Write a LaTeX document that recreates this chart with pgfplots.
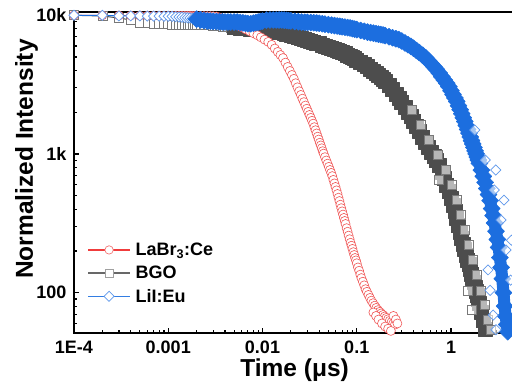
\documentclass[border=0pt]{standalone}
\usepackage{fontspec}
\setmainfont{Liberation Sans}
\usepackage{pgfplots}
\pgfplotsset{compat=1.18}
\definecolor{labline}{RGB}{240,60,60}
\definecolor{labmark}{RGB}{240,85,85}
\definecolor{bgoline}{RGB}{77,77,77}
\definecolor{bgomark}{RGB}{120,120,120}
\definecolor{liiline}{RGB}{28,110,223}
\definecolor{liimark}{RGB}{95,152,236}
\begin{document}
\begin{tikzpicture}
\begin{axis}[
  name=ax,
  xmode=log, ymode=log,
  scale only axis, width=442.9pt, height=321pt,
  xmin=1e-4, xmax=5, ymin=51.2, ymax=10563,
  axis on top,
  axis line style={line width=1.5pt},
  tick pos=left,
  tick style={line width=1.2pt, black},
  major tick length=5pt, minor tick length=3pt,
  xtick={1e-4,1e-3,1e-2,1e-1,1}, xticklabels={1E-4,0.001,0.01,0.1,1},
  minor xtick={2e-4,3e-4,4e-4,5e-4,6e-4,7e-4,8e-4,9e-4,2e-3,3e-3,4e-3,5e-3,6e-3,7e-3,8e-3,9e-3,0.02,0.03,0.04,0.05,0.06,0.07,0.08,0.09,0.2,0.3,0.4,0.5,0.6,0.7,0.8,0.9,2,3,4},
  ytick={100,1000,10000}, yticklabels={100,1k,10k},
  minor ytick={60,70,80,90,200,300,400,500,600,700,800,900,2000,3000,4000,5000,6000,7000,8000,9000},
  xticklabel style={font=\fontsize{18}{18}\selectfont\bfseries, inner sep=0pt, anchor=base, yshift=-21pt},
  yticklabel style={font=\fontsize{18}{18}\selectfont\bfseries, inner sep=0pt, anchor=east, xshift=-7.5pt},
  xlabel={Time (μs)}, ylabel={Normalized Intensity},
  xlabel style={font=\fontsize{24.5}{26}\selectfont\bfseries, at={(axis description cs:0.498,0)}, anchor=base, yshift=-44pt},
  ylabel style={font=\fontsize{24.5}{26}\selectfont\bfseries, at={([xshift=-41pt]axis description cs:0,0.542)}, anchor=base},
  legend style={at={(axis description cs:0.03,0.2875)}, anchor=north west, draw=none, fill=none, font=\fontsize{18}{20}\selectfont\bfseries, inner sep=0pt, row sep=5pt, nodes={inner sep=2pt}, /tikz/every odd column/.append style={column sep=3pt}},
  legend cell align=left,
  legend image code/.code={\draw[mark repeat=2,mark phase=2,#1] plot coordinates {(0pt,0pt) (21pt,0pt) (42pt,0pt)};},
]
\addlegendimage{color=labline, line width=1.2pt, mark=*, mark size=4.2pt, mark options={draw=labmark!80!white, fill=white, line width=0.7pt}}
\addlegendentry{LaBr\textsubscript{3}:Ce}
\addlegendimage{color=bgoline!85!white, line width=1.2pt, mark=square*, mark size=4pt, mark options={draw=bgomark!70!white, fill=white, line width=0.7pt}}
\addlegendentry{BGO}
\addlegendimage{color=liiline!90!white, line width=1.2pt, mark=square*, mark size=3.6pt, mark options={rotate=45, draw=liimark, fill=white, line width=0.7pt}}
\addlegendentry{LiI:Eu}

% BGO, early sparse part
\addplot[forget plot, color=bgoline, line width=1pt, mark=square*, mark size=4.5pt, mark options={draw=bgomark, fill=white, line width=0.6pt}] coordinates {
(1e-4,10000) (2e-4,9880) (3e-4,9560) (4e-4,9250) (5e-4,8900) (6e-4,8790) (7e-4,8730) (8e-4,8690) (9e-4,8660) (1e-3,8640)
(1.1e-3,8610) (1.2e-3,8600) (1.3e-3,8570) (1.4e-3,8550) (1.5e-3,8540) (1.6e-3,8525) (1.7e-3,8510) (1.8e-3,8510) (1.9e-3,8510) (2.0e-3,8510)
(2.2e-3,8510) (2.4e-3,8510) (2.6e-3,8510) (2.8e-3,8510) (3.0e-3,8455) (3.25e-3,8385) (3.5e-3,8330) (3.75e-3,8275) (4.0e-3,8235) (4.3e-3,8210) (4.6e-3,8180) (5.0e-3,8155)
};
% BGO, dense part
\addplot[forget plot, color=bgoline, line width=10pt, line join=round, line cap=round, mark=square*, mark size=7pt, mark options={draw=bgoline, fill=bgoline, line width=0.6pt}] coordinates {
(5.0e-3,8155) (5.4e-3,8125) (5.8e-3,8100) (6.2e-3,8065) (6.6e-3,8035) (7.0e-3,8005) (7.5e-3,7980) (8.0e-3,7940) (8.5e-3,7915) (9.0e-3,7885) (9.5e-3,7860)
(0.010,7835) (0.011,7770) (0.012,7700) (0.013,7640) (0.014,7580) (0.015,7530) (0.016,7480) (0.017,7410) (0.018,7325) (0.019,7245) (0.020,7174) (0.022,7030) (0.024,6915) (0.026,6800) (0.028,6705) (0.030,6610) (0.0325,6505) (0.035,6405) (0.0375,6320) (0.040,6230) (0.043,6125) (0.046,6025) (0.050,5905) (0.054,5800) (0.058,5705) (0.062,5610) (0.066,5505) (0.070,5400) (0.075,5285) (0.080,5180) (0.085,5085) (0.090,4970) (0.095,4865)
(0.10,4760) (0.11,4580) (0.12,4425) (0.13,4280) (0.14,4112) (0.15,3953) (0.16,3817) (0.17,3692) (0.18,3578) (0.19,3472) (0.20,3342) (0.22,3112) (0.24,2911) (0.26,2703) (0.28,2521) (0.30,2362) (0.325,2178) (0.35,2013) (0.375,1860) (0.40,1731) (0.43,1584) (0.46,1459) (0.50,1319) (0.54,1205) (0.58,1112) (0.62,1033) (0.66,959) (0.70,894) (0.75,824) (0.80,741) (0.85,664) (0.90,596) (0.95,534)
(1.00,481) (1.05,429) (1.10,386) (1.15,345) (1.20,304) (1.25,272) (1.30,247) (1.35,223) (1.40,204) (1.45,187) (1.50,172) (1.55,159) (1.60,147) (1.65,136) (1.70,127) (1.75,118.5) (1.80,110) (1.85,102) (1.90,95.1) (1.95,89.2) (2.00,83.2) (2.1,72.7) (2.2,62.8) (2.3,54.7) (2.4,48)
};
% BGO, scattered open squares in the tail
\addplot[forget plot, only marks, mark=square*, mark size=4.5pt, mark options={draw=bgomark, fill=white, fill opacity=0.6, line width=0.6pt}] coordinates {
(0.3834,2075) (0.478,1617) (0.587,1261) (0.730,983) (0.748,649) (0.887,766) (1.017,597) (1.147,465) (1.277,363) (1.391,283) (1.515,104) (1.534,220) (1.67,75) (1.695,172) (1.878,134) (2.072,104) (2.279,81.4) (2.481,63.5) (2.612,53.7)
};

% LaBr3:Ce
\addplot[forget plot, color=labline, line width=0.8pt, mark=*, mark size=4.5pt, mark options={draw=labmark, fill=white, line width=0.6pt}] coordinates {
(1e-4,10000) (2e-4,9980) (3e-4,9960) (4e-4,9950) (5e-4,9940) (6e-4,9930) (7e-4,9920) (8e-4,9920) (9e-4,9910) (1e-3,9910)
(1.1e-3,9900) (1.2e-3,9900) (1.3e-3,9900) (1.4e-3,9890) (1.5e-3,9890) (1.6e-3,9890) (1.7e-3,9890) (1.8e-3,9880) (1.9e-3,9880) (2.0e-3,9880)
(2.2e-3,9880) (2.4e-3,9870) (2.6e-3,9860) (2.8e-3,9850) (3.0e-3,9840) (3.25e-3,9803) (3.5e-3,9641) (3.75e-3,9483) (4.0e-3,9358) (4.3e-3,9204) (4.6e-3,9038) (5.0e-3,8771)
(5.4e-3,8530) (6.0e-3,8210) (6.6e-3,7930) (7.3e-3,7670) (8.0e-3,7430) (8.8e-3,7190) (9.6e-3,6940)
(0.0105,6680) (0.0115,6430) (0.0125,6130) (0.0135,5760) (0.0145,5445) (0.0155,5170) (0.0165,4920) (0.0175,4560) (0.0185,4245) (0.0195,3970)
(0.0205,3716) (0.0215,3484) (0.0225,3238) (0.0235,3025) (0.0245,2835) (0.0255,2666) (0.0265,2507) (0.0275,2366) (0.0285,2236) (0.0295,2120)
(0.0305,2014) (0.0315,1913) (0.0325,1823) (0.0335,1737) (0.0345,1656) (0.0355,1562) (0.0365,1484) (0.0375,1407) (0.0385,1334) (0.0395,1271)
(0.0405,1205) (0.0415,1153) (0.0425,1100) (0.0435,1048) (0.0445,1007) (0.046,949) (0.0475,898) (0.049,852) (0.0505,808) (0.052,767)
(0.0535,731) (0.055,693) (0.0565,651) (0.058,614) (0.0595,579) (0.061,547) (0.0625,515) (0.064,484) (0.0655,458) (0.067,431)
(0.0685,407) (0.070,386) (0.0715,366) (0.073,346) (0.0745,329) (0.076,313) (0.078,292) (0.080,275) (0.082,258) (0.084,243)
(0.086,229) (0.088,218) (0.090,207) (0.092,196) (0.094,187) (0.096,178) (0.098,171) (0.100,163) (0.103,152) (0.106,144)
(0.109,135) (0.112,127.5) (0.116,120) (0.120,113) (0.124,106) (0.128,101.5) (0.133,96.4) (0.138,91.7) (0.143,87.6) (0.149,84)
(0.155,80.6) (0.161,77.7) (0.168,74.9) (0.175,72.8) (0.182,70.9) (0.190,69.1) (0.198,67.4) (0.206,65.8) (0.215,64.4) (0.224,62.8)
(0.234,61.4) (0.244,60.0) (0.254,58.8)
};
\addplot[forget plot, only marks, mark=*, mark size=4.5pt, mark options={draw=labmark, fill=white, line width=0.6pt}] coordinates {
(0.15,72) (0.16,68) (0.17,64) (0.185,60) (0.2,57) (0.215,55) (0.23,53) (0.245,68) (0.26,64) (0.27,60)
};

% LiI:Eu, early sparse part
\addplot[forget plot, color=liiline, line width=1pt, mark=square*, mark size=3.6pt, mark options={rotate=45, draw=liimark, fill=white, line width=0.7pt}] coordinates {
(1e-4,10000) (2e-4,10000) (3e-4,9900) (4e-4,9900) (5e-4,9900) (6e-4,9880) (7e-4,9860) (8e-4,9850) (9e-4,9840) (1e-3,9835)
(1.1e-3,9820) (1.2e-3,9770) (1.3e-3,9720) (1.4e-3,9670) (1.5e-3,9630) (1.6e-3,9590) (1.7e-3,9560) (1.8e-3,9500) (1.9e-3,9435) (2.0e-3,9375)
};
% LiI:Eu, dense part
\addplot[forget plot, color=liiline, line width=12pt, line join=round, line cap=round, mark=square*, mark size=6pt, mark options={rotate=45, draw=liiline, fill=liiline, line width=0.6pt}] coordinates {
(2.0e-3,9375) (2.2e-3,9265) (2.4e-3,9173) (2.6e-3,9097) (2.8e-3,9067) (3.0e-3,9045) (3.25e-3,9022) (3.5e-3,8992) (3.75e-3,8970) (4.0e-3,8947) (4.3e-3,8947) (4.6e-3,8947) (5.0e-3,8947) (5.4e-3,8940) (5.8e-3,8874) (6.2e-3,8815) (6.6e-3,8757) (7.0e-3,8699) (7.5e-3,8684) (8.0e-3,8771) (8.5e-3,8859) (9.0e-3,8934) (9.5e-3,9015)
(0.010,9090) (0.011,9235) (0.012,9250) (0.013,9250) (0.014,9250) (0.015,9250) (0.016,9250) (0.017,9226) (0.018,9188) (0.019,9143) (0.020,9112) (0.022,9038) (0.024,8978) (0.026,8934) (0.028,8904) (0.030,8882) (0.0325,8859) (0.035,8830) (0.0375,8800) (0.040,8757) (0.043,8685) (0.046,8627) (0.050,8556) (0.054,8485) (0.058,8429) (0.062,8374) (0.066,8319) (0.070,8264) (0.075,8210) (0.080,8155) (0.085,8100) (0.090,8020) (0.095,7953)
(0.10,7887) (0.11,7770) (0.12,7668) (0.13,7567) (0.14,7499) (0.15,7431) (0.16,7370) (0.17,7309) (0.18,7260) (0.19,7213) (0.20,7142) (0.22,7001) (0.24,6886) (0.26,6773) (0.28,6672) (0.30,6526) (0.325,6320) (0.35,6135) (0.375,5975) (0.40,5788) (0.43,5572) (0.46,5389) (0.50,5151) (0.54,4928) (0.58,4681) (0.62,4453) (0.66,4250) (0.70,4072) (0.75,3833) (0.80,3606) (0.85,3414) (0.90,3238) (0.95,3054)
(1.00,2860) (1.05,2688) (1.10,2534) (1.15,2393) (1.20,2228) (1.25,2085) (1.30,1951) (1.35,1826) (1.40,1715) (1.45,1607) (1.50,1504) (1.55,1414) (1.60,1327) (1.65,1248) (1.70,1181) (1.75,1114) (1.80,1053) (1.85,1002) (1.90,950) (1.95,905)
(2.00,856) (2.1,766) (2.2,690) (2.3,624) (2.4,564) (2.5,510) (2.6,461) (2.7,404) (2.8,360) (2.9,318) (3.0,277) (3.1,242) (3.2,212) (3.3,179) (3.4,152) (3.5,126) (3.6,100) (3.7,80) (3.8,67.8) (3.9,58.9) (4.0,52.3) (4.2,45)
};
% LiI:Eu, scattered open diamonds in the tail
\addplot[forget plot, only marks, mark=square*, mark size=3.6pt, mark options={rotate=45, draw=liimark, fill=white, fill opacity=0.6, line width=0.7pt}] coordinates {
(1.788,1489) (2.312,904) (2.873,550) (2.981,766) (3.393,334) (3.65,465) (3.834,203) (4.29,123) (4.375,239) (2.47,146) (2.6,104) (2.8,69) (3.0,54)
};
\end{axis}
\pgfresetboundingbox
\path[use as bounding box] ([xshift=-74pt,yshift=-50pt]ax.south west) rectangle ([xshift=-4.9pt,yshift=12pt]ax.north east);
\end{tikzpicture}
\end{document}
